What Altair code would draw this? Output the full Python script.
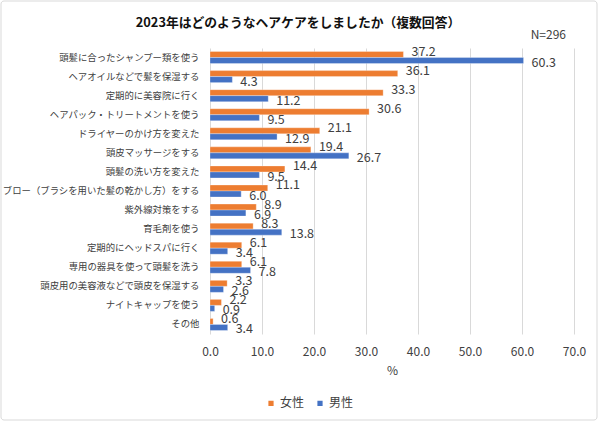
import altair as alt
import pandas as pd

categories = [
    "頭髪に合ったシャンプー類を使う",
    "ヘアオイルなどで髪を保湿する",
    "定期的に美容院に行く",
    "ヘアパック・トリートメントを使う",
    "ドライヤーのかけ方を変えた",
    "頭皮マッサージをする",
    "頭髪の洗い方を変えた",
    "ブロー（ブラシを用いた髪の乾かし方）をする",
    "紫外線対策をする",
    "育毛剤を使う",
    "定期的にヘッドスパに行く",
    "専用の器具を使って頭髪を洗う",
    "頭皮用の美容液などで頭皮を保湿する",
    "ナイトキャップを使う",
    "その他",
]
female = [37.2, 36.1, 33.3, 30.6, 21.1, 19.4, 14.4, 11.1, 8.9, 8.3, 6.1, 6.1, 3.3, 2.2, 0.6]
male = [60.3, 4.3, 11.2, 9.5, 12.9, 26.7, 9.5, 6.0, 6.9, 13.8, 3.4, 7.8, 2.6, 0.9, 3.4]
series = ["女性", "男性"]
colors = ["#ED7D31", "#4472C4"]
x_ticks = [0, 10, 20, 30, 40, 50, 60, 70]
title_text = "2023年はどのようなヘアケアをしましたか（複数回答）"
n_label = "N=296"

rows = []
for c, f, m in zip(categories, female, male):
    rows.append({"項目": c, "性別": "女性", "値": f})
    rows.append({"項目": c, "性別": "男性", "値": m})
df = pd.DataFrame(rows)

FONT = "Noto Sans CJK JP"
TXT = "#404040"

y_enc = alt.Y("項目:N", sort=categories, title=None,
              scale=alt.Scale(paddingInner=0.37, paddingOuter=0.185),
              axis=alt.Axis(labelFontSize=9.4,
                            labelColor=TXT, labelPadding=11,
                            ticks=False, domain=False, labelLimit=300))
x_enc = alt.X("値:Q", title="%",
              scale=alt.Scale(domain=[0, 70], nice=False),
              axis=alt.Axis(values=x_ticks, format=".1f", labelFontSize=12,
                            labelColor=TXT, labelPadding=12, ticks=False,
                            labelFlush=False,
                            domain=False, gridColor="#D9D9D9",
                            titleFontSize=12, titleColor=TXT, titleFontWeight="normal",
                            titlePadding=8))
color_enc = alt.Color("性別:N", sort=series,
                      scale=alt.Scale(domain=series, range=colors),
                      legend=alt.Legend(title=None, orient="none", direction="horizontal",
                                        legendX=55, legendY=349, symbolType="square",
                                        symbolSize=45, labelFontSize=12, labelColor=TXT,
                                        columnPadding=8, labelOffset=3))
yoff = alt.YOffset("性別:N", sort=series)

frame = alt.Chart(pd.DataFrame({"f": [0]})).mark_rect(
    fill=None, stroke="#D9D9D9", strokeWidth=1, cornerRadius=3
).encode(x=alt.value(-209), x2=alt.value(387), y=alt.value(-47), y2=alt.value(372))

bars = alt.Chart(df).mark_bar(stroke="white", strokeWidth=0.3).encode(
    y=y_enc, x=x_enc, color=color_enc, yOffset=yoff
)

labels_f = alt.Chart(df).transform_filter(alt.datum["性別"] == "女性").mark_text(
    align="left", baseline="middle", dx=8, dy=-2.5, fontSize=12.5, color=TXT, font=FONT
).encode(y=y_enc, x="値:Q", yOffset=yoff, text=alt.Text("値:Q", format=".1f"))

labels_m = alt.Chart(df).transform_filter(alt.datum["性別"] == "男性").mark_text(
    align="left", baseline="middle", dx=8, dy=2, fontSize=12.5, color=TXT, font=FONT
).encode(y=y_enc, x="値:Q", yOffset=yoff, text=alt.Text("値:Q", format=".1f"))

n_text = alt.Chart(pd.DataFrame({"t": [n_label]})).mark_text(
    align="right", baseline="middle", fontSize=12, color=TXT, font=FONT
).encode(x=alt.value(356), y=alt.value(-13), text="t:N")

title_mark = alt.Chart(pd.DataFrame({"t": [title_text]})).mark_text(
    align="center", baseline="middle", fontSize=12.8, fontWeight="bold",
    color="#111111", font=FONT
).encode(x=alt.value(88), y=alt.value(-25), text="t:N")

chart = alt.layer(frame, bars, labels_f, labels_m, n_text, title_mark).properties(
    width=364, height=286,
    autosize=alt.AutoSizeParams(type="none"),
    padding={"left": 210, "top": 48, "right": 26, "bottom": 88},
).configure(font=FONT, background="white").configure_view(stroke=None)

chart.save("out.html", embed_options={"renderer": "svg", "actions": False})
